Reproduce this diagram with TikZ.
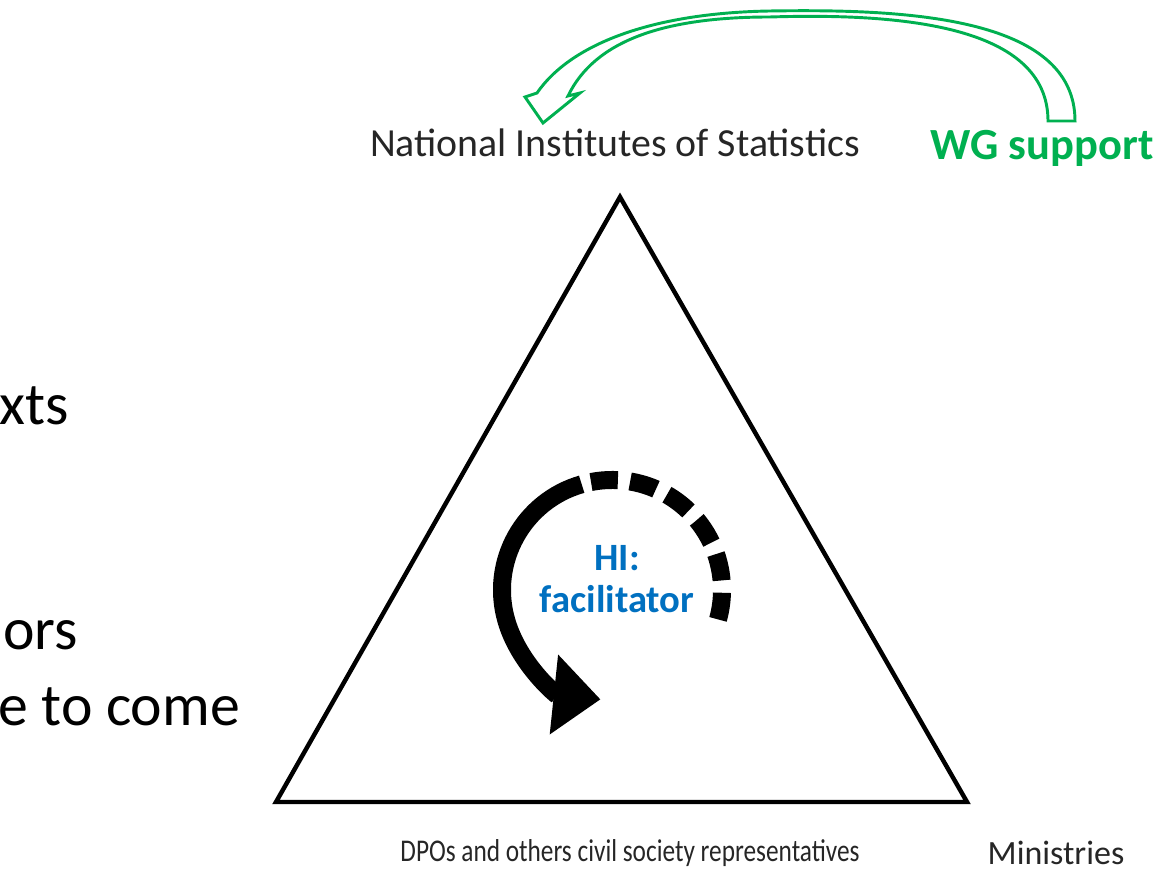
\documentclass[tikz,border=0pt]{standalone}
\usepackage{fontspec}
\setmainfont{Carlito}
\usepackage{graphicx}
\usepackage{tikz}
\usetikzlibrary{positioning}
\usetikzlibrary{arrows.meta}
\definecolor{wggreen}{RGB}{0,176,80}
\definecolor{hiblue}{RGB}{0,112,192}
\tikzset{party node/.style={inner sep=0pt,text=black!85,font=\fontsize{34}{40}\selectfont},
	slide text/.style={inner sep=0pt,anchor=base east,font=\fontsize{51}{58}\selectfont},
	cycle band/.style={line width=18*0.03cm},}

\begin{document}
\begin{tikzpicture}[x=0.03cm, y=0.03cm, line join=miter]
	\useasboundingbox (0,0) rectangle (1157,875);
	% cut-off slide text on the left
	\node[slide text] (txa) at (69,450) {xts};
	\node[slide text] (txb) at (78,225) {ors};
	\node[slide text] (txc) at (240,149) {e to come};

	% the three parties
	\coordinate (apex) at (620,678);
	\coordinate (left) at (276,73);
	\coordinate (right) at (967,73);
	\draw[line width=3.8pt] (apex) -- (left) -- (right) -- cycle;

	\node[party node] (nis) at (615,732) {National Institutes of Statistics};
	\node[party node, font=\fontsize{27}{32}\selectfont] (dpo) at (630,22) {\scalebox{0.8}[1]{DPOs and others civil society representatives}};
	\node[party node, font=\fontsize{29}{36}\selectfont] (min) at (1056,22) {Ministries};
	\node[party node, text=wggreen, font=\fontsize{38}{44}\selectfont\bfseries] (wg) at (1042,727) {WG support};

	% WG support arrow
	\draw[wggreen, line width=2.5pt, fill=white]
	    (1075,754) .. controls (1075,860) and (900,866) .. (770,864)
	    .. controls (650,862) and (570,830) .. (537,782)
	    -- (525,778) -- (543,752) -- (580,782) -- (568,779)
	    .. controls (595,835) and (665,858) .. (770,858)
	    .. controls (900,862) and (1048,850) .. (1048,754) -- cycle;

	% HI facilitator cycle
	\coordinate (hub) at (612,285);
	\draw[cycle band, -{Triangle[length=40pt,width=66pt]}]
	    ([shift={(106:110)}]hub) arc[start angle=106, end angle=264, radius=110];
	\draw[cycle band, dash pattern=on 0.81cm off 0.37cm]
	    ([shift={(101:110)}]hub) arc[start angle=101, end angle=-16, radius=110];
	\node[inner sep=0pt, text=hiblue, font=\fontsize{33}{36}\selectfont\bfseries, align=center] (hi) at (617,296) {HI:\\facilitator};
\end{tikzpicture}
\end{document}
